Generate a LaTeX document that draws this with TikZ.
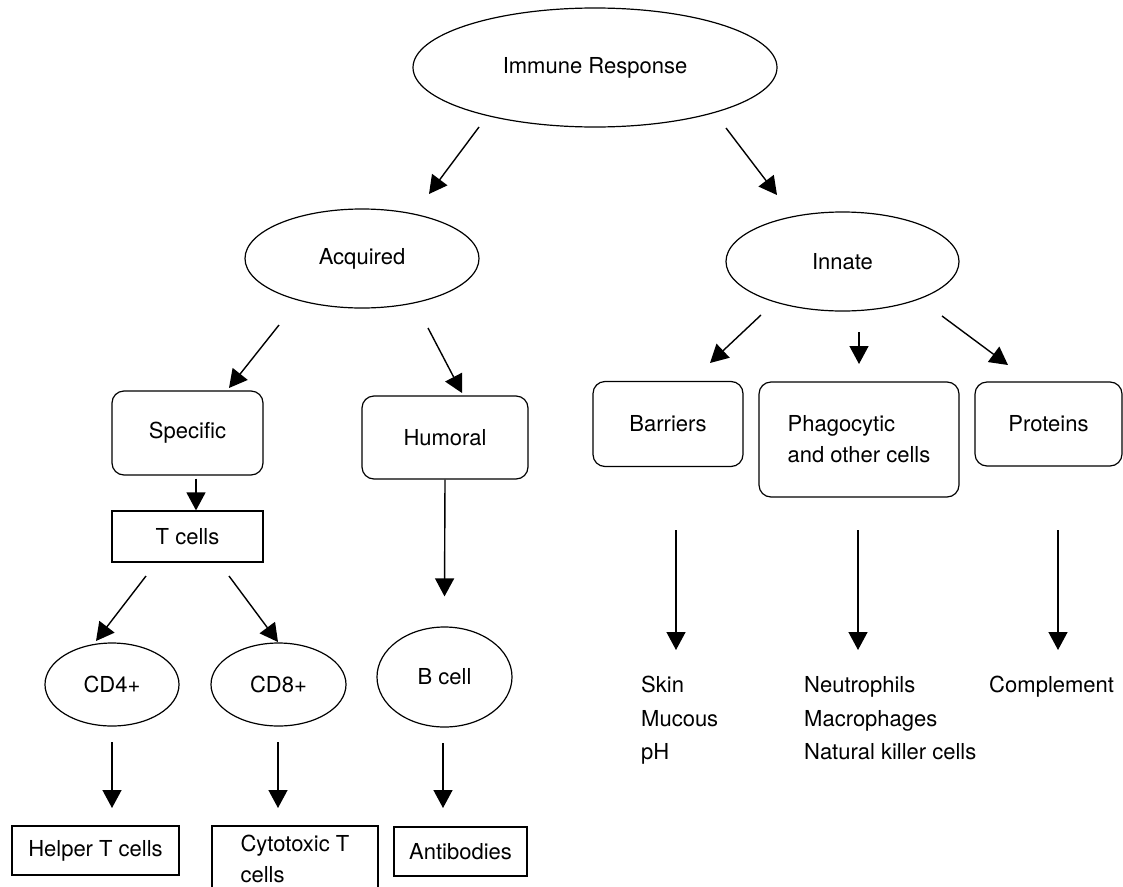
\documentclass[tikz,border=0pt]{standalone}
\usepackage{fontspec}
\setmainfont{TeX Gyre Heros}
\usetikzlibrary{arrows.meta,shapes.geometric}
\begin{document}
\begin{tikzpicture}[x=1pt,y=-1pt,
  every node/.style={font=\fontsize{22}{31}\selectfont, inner sep=0pt},
  ell/.style={draw, line width=1.2pt, ellipse},
  rbox/.style={draw, line width=1.2pt, rectangle, rounded corners=12pt},
  sbox/.style={draw, line width=1.2pt, rectangle},
  arr/.style={line width=1.4pt, -{Triangle[length=18pt,width=19pt]}},
  lst/.style={anchor=base west}]
\useasboundingbox (0,0) rectangle (1123,886);
\clip (0,0) rectangle (1123,886);

% ellipses
\node[ell, minimum width=364pt, minimum height=119pt] (ir) at (595,67.5) {Immune Response};
\node[ell, minimum width=234pt, minimum height=99pt] (acq) at (362,258.5) {Acquired};
\node[ell, minimum width=233pt, minimum height=99pt] (inn) at (842.5,261.5) {Innate};
\node[ell, minimum width=134pt, minimum height=83pt] (cd4) at (112,684.5) {CD4+};
\node[ell, minimum width=135pt, minimum height=83pt] (cd8) at (278.5,684.5) {CD8+};
\node[ell, minimum width=135pt, minimum height=100pt] (bcell) at (444.5,677) {B cell};

% rounded boxes
\node[rbox, minimum width=151pt, minimum height=84pt] (spec) at (187.5,433) {Specific};
\node[rbox, minimum width=166pt, minimum height=83pt] (hum) at (445,437.5) {Humoral};
\node[rbox, minimum width=150pt, minimum height=85pt] (bar) at (668,424) {Barriers};
\node[rbox, minimum width=200pt, minimum height=115pt, align=left] (phag) at (859,439.5) {Phagocytic\\and other cells};
\node[rbox, minimum width=147pt, minimum height=84pt] (prot) at (1048.5,424) {Proteins};

% square boxes
\node[sbox, minimum width=151pt, minimum height=51pt] (tcell) at (187.5,536.5) {T cells};
\node[sbox, minimum width=167pt, minimum height=49pt] (help) at (95.5,850.5) {Helper T cells};
\node[sbox, minimum width=166pt, minimum height=65pt, align=left] (cyto) at (295,858.5) {Cytotoxic T\\cells};
\node[sbox, minimum width=133pt, minimum height=49pt] (anti) at (460.5,851.5) {Antibodies};

% lists
\node[lst] (skin) at (641,692) {Skin};
\node[lst] (muc) at (641,726) {Mucous};
\node[lst] (ph) at (641,759) {pH};
\node[lst] (neu) at (804,692) {Neutrophils};
\node[lst] (mac) at (804,726) {Macrophages};
\node[lst] (nk) at (804,759) {Natural killer cells};
\node[lst] (comp) at (989,692) {Complement};

% arrow end points
\coordinate (a1s) at (479,127);  \coordinate (a1e) at (429,194);
\coordinate (a2s) at (726,128);  \coordinate (a2e) at (777,195);
\coordinate (a3s) at (279,325);  \coordinate (a3e) at (229,388);
\coordinate (a4s) at (428,328);  \coordinate (a4e) at (462,393);
\coordinate (a6s) at (146,576);  \coordinate (a6e) at (96,641);
\coordinate (a7s) at (229,576);  \coordinate (a7e) at (278,642);
\coordinate (a9s) at (112,742);  \coordinate (a9e) at (112,808);
\coordinate (a10s) at (278,742); \coordinate (a10e) at (278,808);
\coordinate (a11s) at (443,743); \coordinate (a11e) at (443,808);
\coordinate (a12s) at (761,315); \coordinate (a12e) at (710,363);
\coordinate (a13s) at (859,332); \coordinate (a13e) at (859,364);
\coordinate (a14s) at (942,316); \coordinate (a14e) at (1008,365);
\coordinate (a15s) at (676,530); \coordinate (a15e) at (676,650);
\coordinate (a16s) at (858,530); \coordinate (a16e) at (858,650);
\coordinate (a17s) at (1058,530); \coordinate (a17e) at (1058,650);

% connectors
\draw[arr] (a1s) -- (a1e);
\draw[arr] (a2s) -- (a2e);
\draw[arr] (a3s) -- (a3e);
\draw[arr] (a4s) -- (a4e);
\draw[arr] ([xshift=8.5pt,yshift=-3pt]spec.south) -- ([xshift=8.5pt]tcell.north);
\draw[arr] (a6s) -- (a6e);
\draw[arr] (a7s) -- (a7e);
\draw[arr] (hum.south) -- ([yshift=30pt]bcell.north);
\draw[arr] (a9s) -- (a9e);
\draw[arr] (a10s) -- (a10e);
\draw[arr] (a11s) -- (a11e);
\draw[arr] (a12s) -- (a12e);
\draw[arr] (a13s) -- (a13e);
\draw[arr] (a14s) -- (a14e);
\draw[arr] (a15s) -- (a15e);
\draw[arr] (a16s) -- (a16e);
\draw[arr] (a17s) -- (a17e);
\end{tikzpicture}
\end{document}
